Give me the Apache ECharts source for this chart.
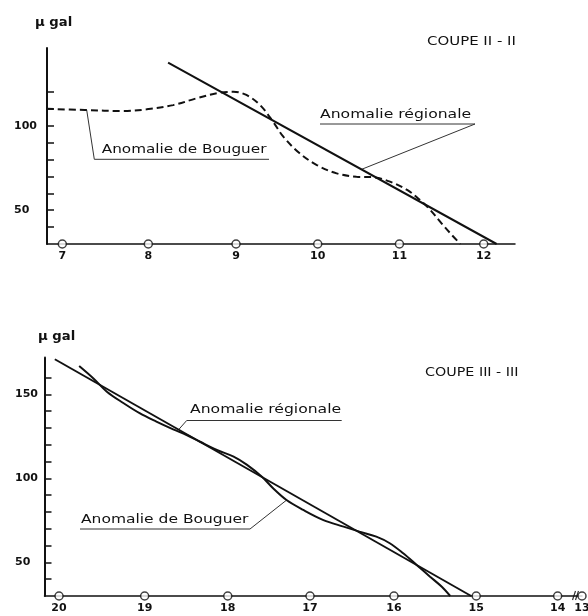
<!DOCTYPE html>
<html>
<head>
<meta charset="utf-8">
<script src="https://cdn.jsdelivr.net/npm/echarts@6/dist/echarts.min.js"></script>
<style>html,body{margin:0;padding:0;background:#fff}#c{width:588px;height:616px}</style>
</head>
<body>
<div id="c"></div>
<script>
// ---- Coupe II-II (top) ----
const topStations = ['7', '8', '9', '10', '11', '12'];
const topStationPos = [0, 1.00, 2.02, 2.97, 3.92, 4.90];
const topBouguerX = [-0.18, 0.26, 0.71, 0.98, 1.29, 1.56, 1.83, 1.99, 2.14, 2.30, 2.45, 2.57, 2.76, 2.96, 3.19, 3.42, 3.62, 3.81, 4.01, 4.16, 4.28, 4.41, 4.53, 4.63];
const topBouguerY = [110, 109.3, 108.7, 109.7, 112.2, 116.2, 119.5, 120.1, 118.2, 112.2, 102.4, 93.5, 83.7, 76.7, 71.8, 69.8, 69.5, 66.9, 62.0, 56.0, 50.1, 42.2, 35.3, 30];
const topRegionalX = [1.23, 5.05];
const topRegionalY = [137.3, 30];
const topYTicks = [40, 50, 60, 70, 80, 90, 100, 110, 120];
const topYLabels = [50, 100];

// ---- Coupe III-III (bottom) ----
const botStations = ['20', '19', '18', '17', '16', '15', '14', '13'];
const botStationPos = [0, 1.02, 2.01, 2.99, 3.99, 4.97, 5.94, 6.23];
const botBouguerX = [0.24, 0.41, 0.57, 0.77, 0.96, 1.16, 1.36, 1.52, 1.68, 1.88, 2.08, 2.24, 2.42, 2.55, 2.71, 2.91, 3.15, 3.39, 3.58, 3.78, 3.94, 4.10, 4.26, 4.42, 4.56, 4.66];
const botBouguerY = [166.9, 159.5, 151.6, 144.7, 138.8, 133.8, 129.2, 125.8, 121.8, 116.9, 112.9, 108.0, 100.8, 94.1, 87.1, 81.2, 75.2, 71.3, 68.3, 65.3, 61.4, 55.4, 48.5, 41.5, 35.5, 30];
const botRegionalX = [-0.05, 4.91];
const botRegionalY = [170.9, 30];
const botYTicks = [40, 50, 60, 70, 80, 90, 100, 110, 120, 130, 140, 150, 160];
const botYLabels = [50, 100, 150];

const zip = (xs, ys) => xs.map((x, i) => [x, ys[i]]);
const INK = '#111';
const numFont = { color: INK, fontFamily: 'DejaVu Sans', fontWeight: 'bold', fontSize: 11 };

function xAxisDef(gi, min, max, pos, names) {
  return {
    gridIndex: gi, type: 'value', min: min, max: max,
    axisLine: { show: true, onZero: false, lineStyle: { color: INK, width: 1.5 } },
    axisTick: { show: false }, splitLine: { show: false },
    axisLabel: Object.assign({
      customValues: pos, margin: 7, showMinLabel: true, showMaxLabel: true, hideOverlap: false,
      formatter: v => { const i = pos.findIndex(p => Math.abs(p - v) < 1e-6); return i >= 0 ? names[i] : ''; }
    }, numFont)
  };
}
function yAxisDef(gi, min, max, ticks, labels, margin) {
  return {
    gridIndex: gi, type: 'value', min: min, max: max,
    axisLine: { show: true, onZero: false, lineStyle: { color: INK, width: 2 } },
    axisTick: { show: true, inside: true, length: 7, customValues: ticks, lineStyle: { color: INK, width: 1.5 } },
    splitLine: { show: false },
    axisLabel: Object.assign({ customValues: labels, align: 'left', margin: margin }, numFont, { fontSize: 11 })
  };
}

const chart = echarts.init(document.getElementById('c'), null, { renderer: 'canvas' });

function txt(x, y, s, size, sx, weight) {
  return { type: 'text', x: x, y: y, scaleX: sx, silent: true,
    style: { text: s, x: 0, y: 0, fill: INK, font: (weight || 'normal') + ' ' + size + 'px "DejaVu Sans"', textVerticalAlign: 'middle' } };
}
function pl(points, w) {
  return { type: 'polyline', silent: true, shape: { points: points }, style: { stroke: '#333', lineWidth: w || 1, fill: null } };
}

const option = {
  backgroundColor: '#fff',
  animation: false,
  grid: [
    { left: 47, top: 48, width: 468, height: 196, outerBoundsMode: 'none', containLabel: false },
    { left: 44.5, top: 357.4, width: 537.5, height: 238.6, outerBoundsMode: 'none', containLabel: false }
  ],
  xAxis: [
    xAxisDef(0, -0.178, 5.264, topStationPos, topStations),
    xAxisDef(1, -0.173, 6.23, botStationPos, botStations)
  ],
  yAxis: [
    yAxisDef(0, 30, 146, topYTicks, topYLabels, 33),
    yAxisDef(1, 30, 172, botYTicks, botYLabels, 29.5)
  ],
  series: [
    { type: 'line', xAxisIndex: 0, yAxisIndex: 0, data: zip(topBouguerX, topBouguerY), smooth: 0.35, showSymbol: false,
      lineStyle: { color: INK, width: 2, type: [7, 4] } },
    { type: 'line', xAxisIndex: 0, yAxisIndex: 0, data: zip(topRegionalX, topRegionalY), showSymbol: false,
      lineStyle: { color: INK, width: 2 } },
    { type: 'scatter', xAxisIndex: 0, yAxisIndex: 0, data: topStationPos.map(p => [p, 30]), symbol: 'circle', symbolSize: 8, clip: false, z: 5,
      itemStyle: { color: '#fff', borderColor: INK, borderWidth: 1.5 } },
    { type: 'line', xAxisIndex: 1, yAxisIndex: 1, data: zip(botBouguerX, botBouguerY), smooth: 0.35, showSymbol: false,
      lineStyle: { color: INK, width: 2 } },
    { type: 'line', xAxisIndex: 1, yAxisIndex: 1, data: zip(botRegionalX, botRegionalY), showSymbol: false,
      lineStyle: { color: INK, width: 2 } },
    { type: 'scatter', xAxisIndex: 1, yAxisIndex: 1, data: botStationPos.map(p => [p, 30]), symbol: 'circle', symbolSize: 8, clip: false, z: 5,
      itemStyle: { color: '#fff', borderColor: INK, borderWidth: 1.5 } }
  ],
  graphic: [
    txt(35, 23, 'μ gal', 12, 1.1, 'bold'),
    txt(38, 337, 'μ gal', 12, 1.1, 'bold'),
    txt(427, 42, 'COUPE II - II', 13, 1.15),
    txt(425, 372.5, 'COUPE III - III', 13, 1.1),
    txt(320, 114.5, 'Anomalie régionale', 12.5, 1.25),
    txt(101.7, 150, 'Anomalie de Bouguer', 12.5, 1.22),
    txt(190, 410, 'Anomalie régionale', 12.5, 1.25),
    txt(81, 520, 'Anomalie de Bouguer', 12.5, 1.24),
    pl([[320, 124], [475, 124], [361.7, 169.3]]),
    pl([[269, 159.3], [94.3, 159.3], [86.7, 110]]),
    pl([[341.7, 420.5], [186.7, 420.5], [178.3, 430]]),
    pl([[80, 529], [250, 529], [286.7, 500]]),
    pl([[572.5, 600], [575.5, 591]], 1.2),
    pl([[575.5, 600], [578.5, 591]], 1.2)
  ]
};
chart.setOption(option);
</script>
</body>
</html>
